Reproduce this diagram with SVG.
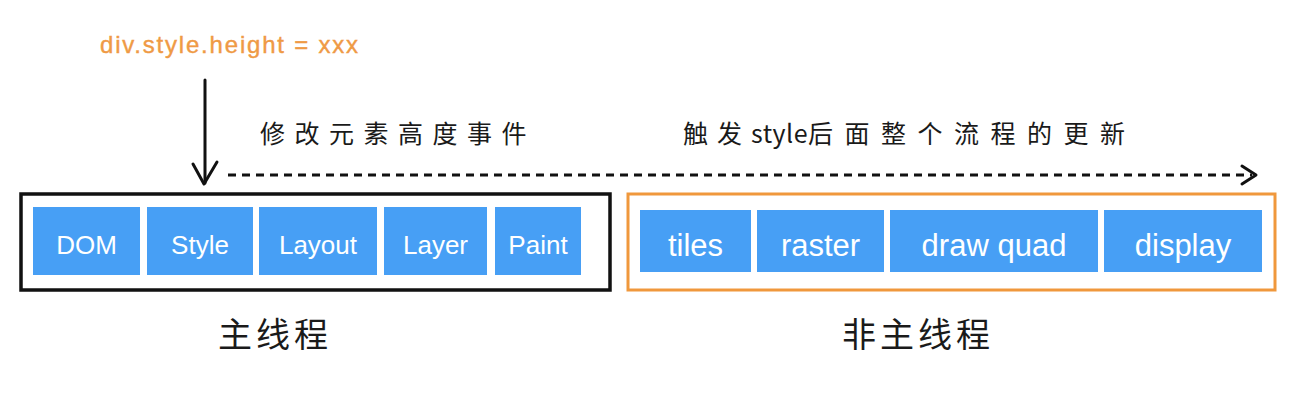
<svg xmlns="http://www.w3.org/2000/svg" width="1296" height="402" viewBox="0 0 1296 402">
<defs>
<style>
.blue{fill:#479ff5;}
.lbl{font-family:"Liberation Sans","Noto Sans",sans-serif;fill:#ffffff;text-anchor:middle;}
.cn{font-family:"Noto Sans CJK SC",sans-serif;fill:#1a1a1a;}
.line{stroke:#111;stroke-width:3;fill:none;stroke-linecap:round;stroke-linejoin:round;}
</style>
</defs>
<rect width="1296" height="402" fill="#ffffff"/>
<text x="100" y="53" font-family="Liberation Sans, sans-serif" font-size="24" letter-spacing="1.8" fill="#ef9a45" stroke="#ef9a45" stroke-width="0.4">div.style.height = xxx</text>
<g id="connectors">
<path class="line" d="M205 80 L205 183"/>
<path class="line" d="M193 164 L204 184 L217 162"/>
<path d="M228 175 L1252 175" stroke="#111" stroke-width="3" stroke-dasharray="8 6" fill="none"/>
<path class="line" d="M1242 166 L1256 175 L1242 184"/>
</g>
<text class="cn" x="260" y="143" font-size="25" letter-spacing="9.5">修改元素高度事件</text>
<text class="cn" x="683" y="143" font-size="25"><tspan letter-spacing="9">触发</tspan><tspan letter-spacing="0.5">style</tspan><tspan letter-spacing="11.5">后面整个流程的更新</tspan></text>
<g id="main-thread">
<rect x="21" y="194" width="589" height="96" fill="none" stroke="#111" stroke-width="3.5"/>
<g id="dom"><rect class="blue" x="33" y="207" width="107" height="68"/><text class="lbl" x="86.5" y="254" font-size="26">DOM</text></g>
<g id="style"><rect class="blue" x="147" y="207" width="106" height="68"/><text class="lbl" x="200" y="254" font-size="26">Style</text></g>
<g id="layout"><rect class="blue" x="259" y="207" width="118" height="68"/><text class="lbl" x="318" y="254" font-size="26">Layout</text></g>
<g id="layer"><rect class="blue" x="384" y="207" width="103" height="68"/><text class="lbl" x="435.5" y="254" font-size="26">Layer</text></g>
<g id="paint"><rect class="blue" x="495" y="207" width="86" height="68"/><text class="lbl" x="538" y="254" font-size="26">Paint</text></g>
</g>
<g id="compositor-thread">
<rect x="628" y="194" width="647" height="96" fill="none" stroke="#f0983c" stroke-width="3"/>
<g id="tiles"><rect class="blue" x="640" y="210" width="111" height="62"/><text class="lbl" x="695.5" y="256" font-size="31">tiles</text></g>
<g id="raster"><rect class="blue" x="757" y="210" width="127" height="62"/><text class="lbl" x="820.5" y="256" font-size="31">raster</text></g>
<g id="drawquad"><rect class="blue" x="890" y="210" width="208" height="62"/><text class="lbl" x="994" y="256" font-size="31">draw quad</text></g>
<g id="display"><rect class="blue" x="1104" y="210" width="158" height="62"/><text class="lbl" x="1183" y="256" font-size="31">display</text></g>
</g>
<text class="cn" x="218" y="347" font-size="34" letter-spacing="4">主线程</text>
<text class="cn" x="842" y="347" font-size="34" letter-spacing="4">非主线程</text>
</svg>
